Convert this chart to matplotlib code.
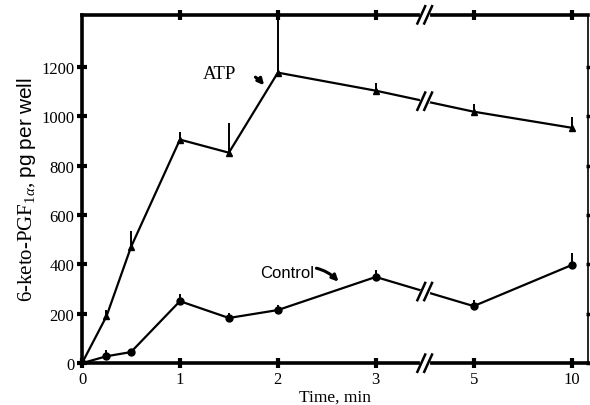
import numpy as np
import matplotlib
matplotlib.use('Agg')
import matplotlib.pyplot as plt

plt.rcParams['font.family'] = ['Liberation Serif', 'DejaVu Serif']
plt.rcParams['mathtext.fontset'] = 'custom'
plt.rcParams['mathtext.rm'] = 'Liberation Serif'
plt.rcParams['mathtext.it'] = 'Liberation Serif:italic'
plt.rcParams['mathtext.sf'] = 'Liberation Sans'

# time points (min) and where they sit on the broken axis
times = [0, 0.25, 0.5, 1, 1.5, 2, 3, 5, 10]
pos = [0, 0.25, 0.5, 1, 1.5, 2, 3, 4, 5]
tick_pos = [0, 1, 2, 3, 4, 5]
tick_labels = ['0', '1', '2', '3', '5', '10']

# 6-keto-PGF1a, pg per well
atp = [0, 190, 470, 905, 852, 1176, 1103, 1018, 953]
atp_err = [0, 25, 65, 30, 120, 260, 30, 30, 45]
control = [0, 28, 45, 251, 183, 215, 349, 231, 397]
control_err = [0, 25, 0, 30, 20, 20, 30, 25, 50]

fig = plt.figure(figsize=(5.9, 4.06), dpi=100)
ax = fig.add_axes([0.139, 0.103, 0.858, 0.858])

# error bars (upper only) then lines with markers
ax.errorbar(pos, atp, yerr=[np.zeros(len(atp)), atp_err], fmt='none',
            ecolor='black', elinewidth=1.4, capsize=0)
ax.errorbar(pos, control, yerr=[np.zeros(len(control)), control_err], fmt='none',
            ecolor='black', elinewidth=1.4, capsize=0)
ax.plot(pos, atp, color='black', lw=1.6, marker='^', ms=5, zorder=3)
ax.plot(pos, control, color='black', lw=1.6, marker='o', ms=5, zorder=3)

ax.set_xlim(0, 5.17)
ax.set_ylim(0, 1410)
ax.set_xticks(tick_pos)
ax.set_xticklabels(tick_labels, family='Liberation Serif')
ax.set_yticks(range(0, 1201, 200))
ax.set_yticklabels([str(v) for v in range(0, 1201, 200)], family='Liberation Serif')

for side in ['left', 'bottom', 'top']:
    ax.spines[side].set_linewidth(2.6)
ax.spines['right'].set_linewidth(1.2)
ax.tick_params(axis='both', direction='inout', length=7, width=3,
               labelsize=12, pad=2)
ax.tick_params(axis='x', top=True)
ax.tick_params(axis='y', right=True)
# small dots on the right edge, no top tick at 0
for t in ax.yaxis.get_major_ticks():
    t.tick2line.set_markersize(3)
    t.tick2line.set_markeredgewidth(2.5)
ax.xaxis.get_major_ticks()[0].tick2line.set_visible(False)

ax.set_xlabel('Time, min', fontsize=12.5, labelpad=1)
ax.set_ylabel(r'6-keto-PGF$_{1\alpha}$, $\mathsf{pg\ per\ well}$',
              fontsize=15, labelpad=2)

# break marks "//" between 3 and 5 min
xb = (pos[6] + pos[7]) / 2
dx, dy = 0.04, 35
for yb in [0, 1410, np.interp(xb, pos, atp), np.interp(xb, pos, control)]:
    ax.plot([xb - 0.03, xb + 0.03], [yb, yb], color='white', lw=3,
            clip_on=False, zorder=3.5)
    for off in [-0.035, 0.035]:
        ax.plot([xb + off - dx, xb + off + dx], [yb - dy, yb + dy],
                color='black', lw=1.8, clip_on=False, zorder=4)

# labels with curved arrows
ax.annotate('ATP', xy=(1.86, 1125), xytext=(1.40, 1172), fontsize=13.5,
            ha='center', va='center',
            arrowprops=dict(arrowstyle='-|>', color='black', lw=2.2,
                            connectionstyle='arc3,rad=-0.35',
                            shrinkA=13, shrinkB=0, mutation_scale=9))
ax.annotate('Control', xy=(2.62, 330), xytext=(2.09, 369), fontsize=12,
            family='Liberation Sans', ha='center', va='center',
            arrowprops=dict(arrowstyle='-|>', color='black', lw=2.2,
                            connectionstyle='arc3,rad=-0.35',
                            shrinkA=30, shrinkB=0, mutation_scale=9))

plt.savefig('out.png', dpi=100)
